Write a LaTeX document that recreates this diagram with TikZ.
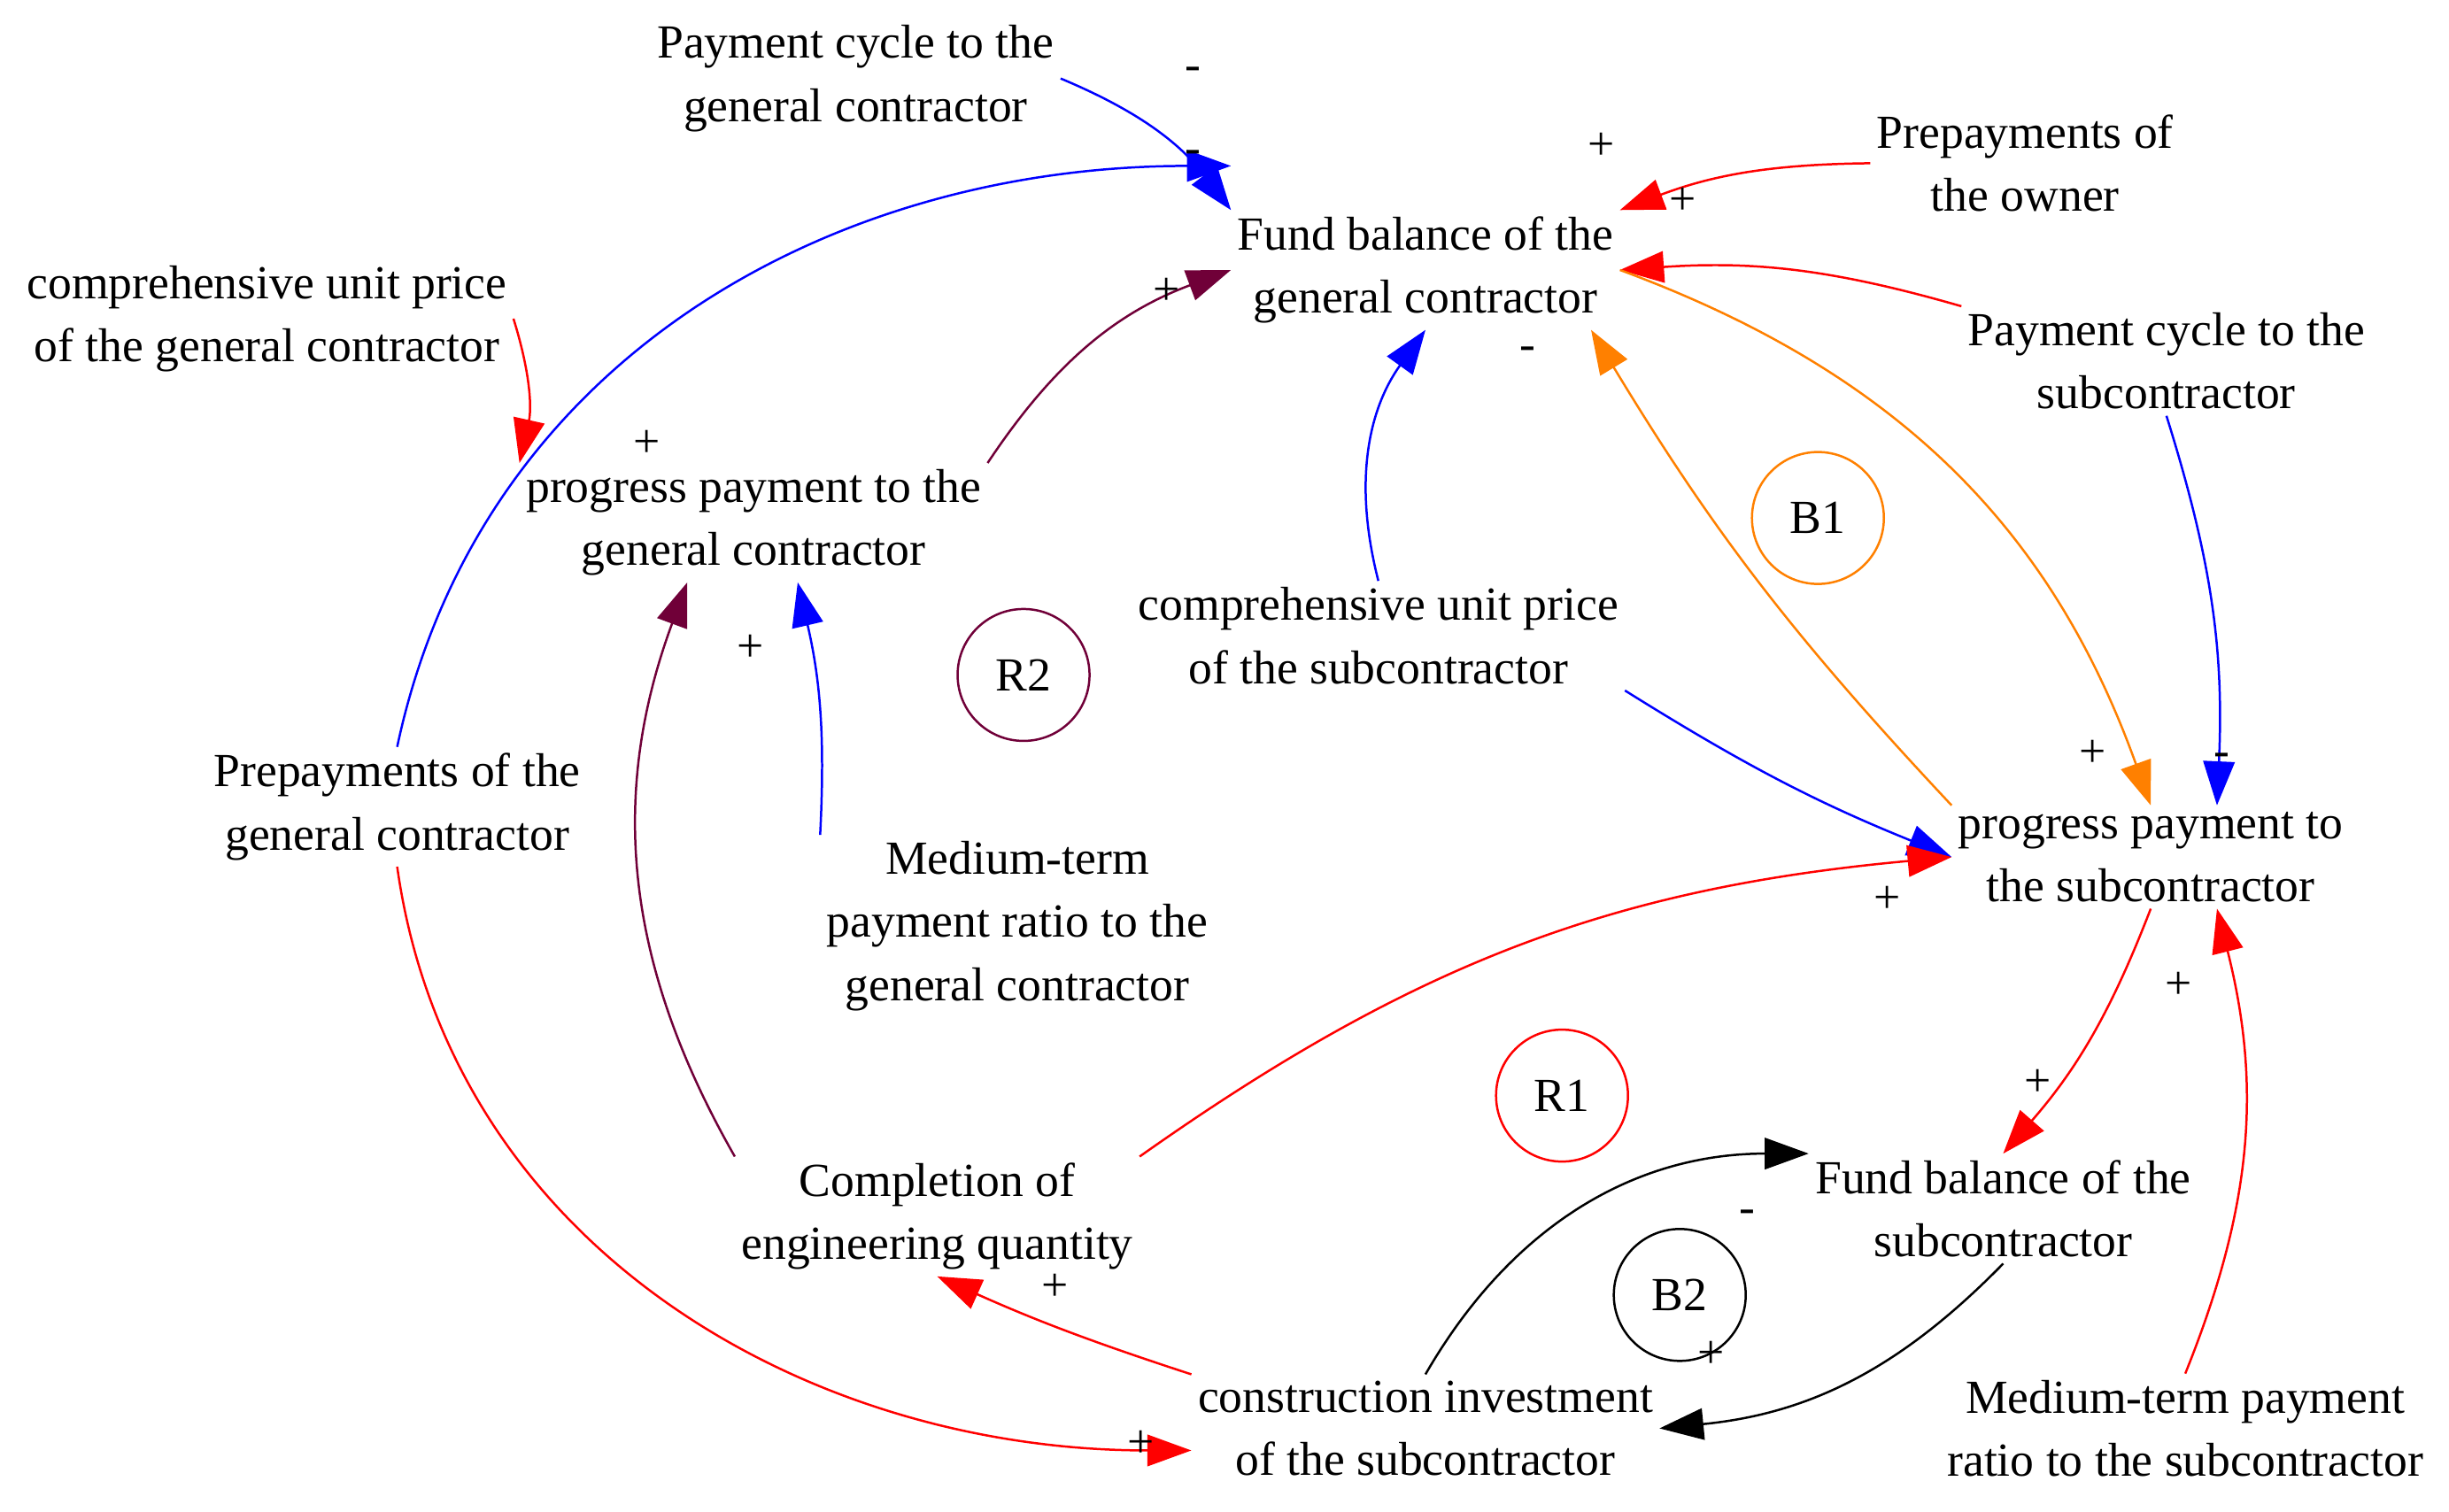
\documentclass[tikz,border=0pt]{standalone}
\usepackage{fontspec}
\setmainfont{Liberation Serif}
\usetikzlibrary{arrows.meta}
\definecolor{cldpurple}{RGB}{112,0,56}
\definecolor{cldorange}{RGB}{255,128,0}
\tikzset{
  var/.style={align=center,inner sep=1pt,font=\fontsize{8.6}{11.4}\selectfont},
  loop/.style={circle,draw,minimum size=0.84cm,inner sep=0pt,font=\fontsize{8.6}{11.4}\selectfont},
  sgn/.style={inner sep=0pt,font=\fontsize{8.6}{11.4}\selectfont},
  lnk/.style={draw=#1,-{Triangle[length=0.28cm,width=0.2cm]},fill=none,line width=0.4pt},
}
\begin{document}
\begin{tikzpicture}[x=0.01cm,y=0.01cm]
				\useasboundingbox (0,0) rectangle (1560,-963);
				% variables
				\node[var] (pcg) at (545,-50) {Payment cycle to the\\general contractor};
				\node[var] (fbg) at (908,-172) {Fund balance of the\\general contractor};
				\node[var] (pow) at (1290,-104) {Prepayments of\\the owner};
				\node[var] (pcs) at (1380,-230) {Payment cycle to the\\subcontractor};
				\node[var] (cupg) at (170,-203) {comprehensive unit price\\of the general contractor};
				\node[var] (ppg) at (480,-333) {progress payment to the\\general contractor};
				\node[var] (cups) at (878,-405) {comprehensive unit price\\of the subcontractor};
				\node[var] (pgc) at (253,-514) {Prepayments of the\\general contractor};
				\node[var] (mtg) at (648,-590) {Medium-term\\payment ratio to the\\general contractor};
				\node[var] (pps) at (1370,-546) {progress payment to\\the subcontractor};
				\node[var] (ceq) at (597,-775) {Completion of\\engineering quantity};
				\node[var] (fbs) at (1276,-770) {Fund balance of the\\subcontractor};
				\node[var] (cis) at (908,-910) {construction investment\\of the subcontractor};
				\node[var] (mts) at (1392,-910) {Medium-term payment\\ratio to the subcontractor};
				% loops
				\node[loop,draw=cldorange] (b1) at (1158,-330) {B1};
				\node[loop,draw=cldpurple] (r2) at (652,-430) {R2};
				\node[loop,draw=red] (r1) at (995,-698) {R1};
				\node[loop] (b2) at (1070,-825) {B2};
				% links
				\draw[lnk=blue] (pcg.east) to[bend left=15] (fbg.north west);
				\draw[lnk=blue] (pgc.north) to[out=78,in=180] ([yshift=8pt]fbg.north west);
				\draw[lnk=cldpurple] (ppg.north east) to[bend left=18] (fbg.west);
				\draw[lnk=red] (pow.west) to[bend right=10] (fbg.north east);
				\draw[lnk=red] (pcs.north west) to[bend right=10] (fbg.east);
				\draw[lnk=red] (cupg.east) to[bend left=15] (ppg.north west);
				\draw[lnk=blue] (cups.north) to[bend left=25] (fbg.south);
				\draw[lnk=cldorange] (pps.north west) to[bend left=6] ([xshift=30pt]fbg.south);
				\draw[lnk=cldorange] (fbg.east) to[bend left=25] (pps.north);
				\draw[lnk=blue] (pcs.south) to[bend left=10] ([xshift=12pt]pps.north);
				\draw[lnk=blue] (cups.south east) to[bend right=5] (pps.west);
				\draw[lnk=blue] (mtg.north west) to[bend right=8] ([xshift=8pt]ppg.south);
				\draw[lnk=cldpurple] (ceq.north west) to[bend left=25] ([xshift=-12pt]ppg.south);
				\draw[lnk=red] (ceq.north east) to[bend left=15] (pps.west);
				\draw[lnk=red] (pps.south) to[bend left=10] (fbs.north);
				\draw[lnk=red] (mts.north) to[bend right=18] ([xshift=12pt]pps.south);
				\draw[lnk=red] (cis.north west) to[bend left=3] (ceq.south);
				\draw[lnk=red] (pgc.south) to[out=-82,in=180] ([yshift=-4pt]cis.west);
				\draw (cis.north) edge[lnk=black,out=60,in=180] (fbs.north west);
				\draw (fbs.south) edge[lnk=black,bend left=20] (cis.east);
				% polarities
				\node[sgn] (s1) at (760,-47) {-};
				\node[sgn] (s2) at (760,-100) {-};
				\node[sgn] (s3) at (743,-186) {+};
				\node[sgn] (s4) at (1020,-93) {+};
				\node[sgn] (s5) at (1072,-128) {+};
				\node[sgn] (s6) at (412,-283) {+};
				\node[sgn] (s7) at (973,-225) {-};
				\node[sgn] (s8) at (1333,-480) {+};
				\node[sgn] (s9) at (1415,-484) {-};
				\node[sgn] (s10) at (478,-413) {+};
				\node[sgn] (s11) at (1202,-573) {+};
				\node[sgn] (s12) at (1298,-690) {+};
				\node[sgn] (s13) at (1388,-628) {+};
				\node[sgn] (s14) at (672,-820) {+};
				\node[sgn] (s15) at (727,-920) {+};
				\node[sgn] (s16) at (1113,-775) {-};
				\node[sgn] (s17) at (1090,-863) {+};
				\end{tikzpicture}
\end{document}
